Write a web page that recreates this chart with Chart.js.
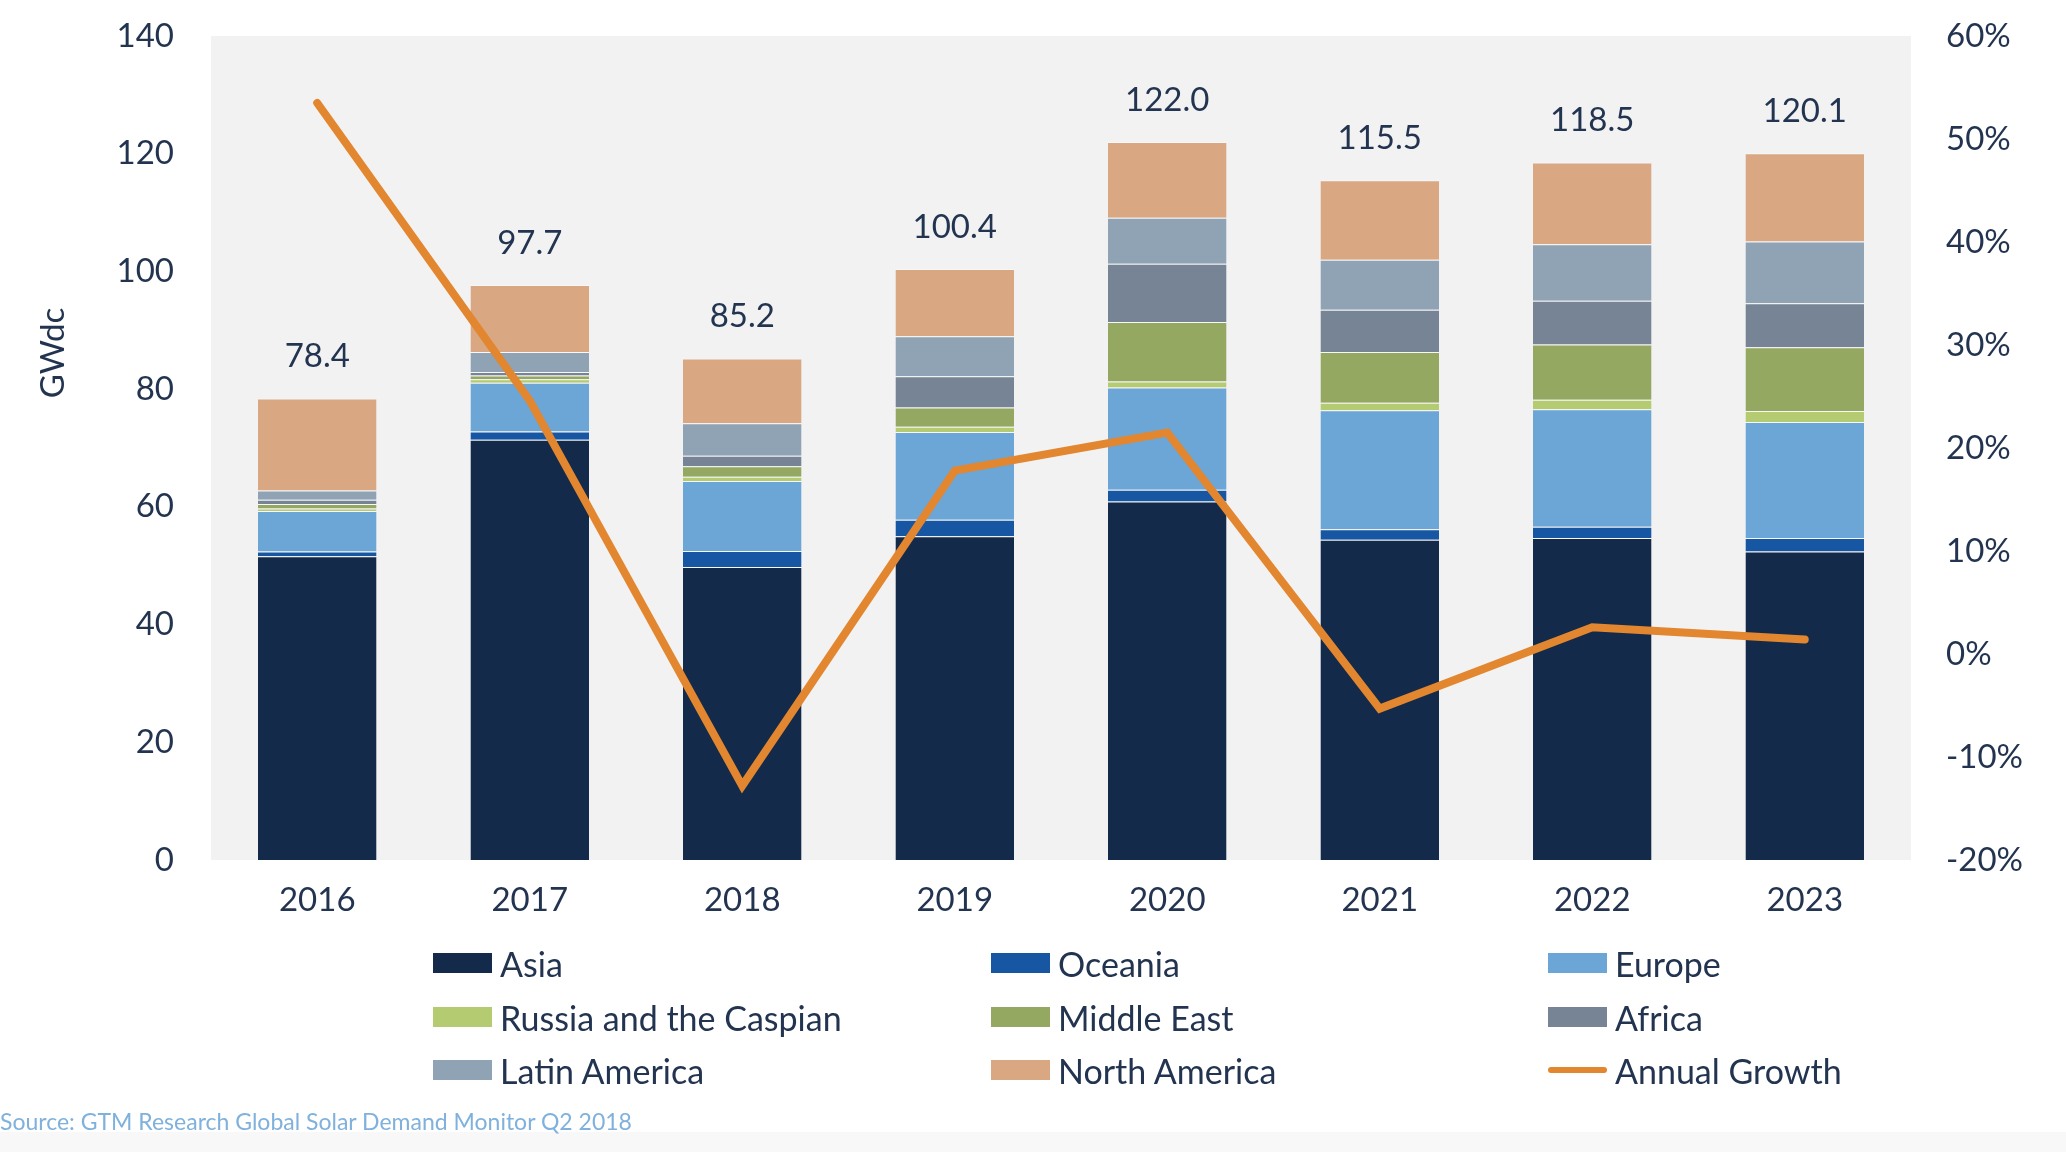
<!DOCTYPE html>
<html>
<head>
<meta charset="utf-8">
<script src="https://cdn.jsdelivr.net/npm/chart.js@4/dist/chart.umd.min.js"></script>
<style>
  html, body { margin: 0; padding: 0; background: #fff; }
  #wrap { position: relative; width: 2066px; height: 1152px; overflow: hidden; font-family: Lato, "Open Sans", sans-serif; }
  #bottomBand { position: absolute; left: 0; top: 1132px; width: 2066px; height: 20px; background: #f8f8f8; }
  .lg { position: absolute; height: 40px; display: flex; align-items: center; font-size: 34px; color: #233450; white-space: nowrap; }
  .lg .sw { width: 59px; height: 20px; margin-right: 8px; }
  .lg .ln { width: 59px; height: 6px; margin: 7px 8px 7px 0; border-radius: 3px; }
  #source { position: absolute; left: 0; top: 1107px; font-size: 23px; color: #7fb1dc; white-space: nowrap; }
</style>
</head>
<body>
<div id="wrap">
  <div id="bottomBand"></div>
  <canvas id="solarChart" width="2066" height="1152"></canvas>
  <div id="legend"></div>
  <div id="source">Source: GTM Research Global Solar Demand Monitor Q2 2018</div>
</div>
<script>
// categories
const years = ['2016', '2017', '2018', '2019', '2020', '2021', '2022', '2023'];

// regional demand, GWdc
const asia         = [51.6, 71.4, 49.8, 55.0, 60.9, 54.4, 54.7, 52.4];
const oceania      = [0.8, 1.4, 2.7, 2.8, 2.0, 1.8, 1.9, 2.3];
const europe       = [6.9, 8.3, 11.9, 14.9, 17.4, 20.2, 20.0, 19.7];
const russia       = [0.4, 0.6, 0.7, 0.9, 1.0, 1.3, 1.6, 1.9];
const middleEast   = [0.8, 0.6, 1.8, 3.3, 10.1, 8.6, 9.4, 10.8];
const africa       = [0.7, 0.6, 1.8, 5.3, 9.9, 7.2, 7.4, 7.5];
const latinAmerica = [1.6, 3.4, 5.5, 6.8, 7.8, 8.5, 9.6, 10.5];
const northAmerica = [15.6, 11.4, 11.0, 11.4, 12.9, 13.5, 13.9, 15.0];

// totals shown above bars
const totals = [78.4, 97.7, 85.2, 100.4, 122.0, 115.5, 118.5, 120.1];

// annual growth, %
const growth = [53.5, 24.6, -12.8, 17.8, 21.5, -5.3, 2.6, 1.4];

// axis ticks
const leftTicks = [0, 20, 40, 60, 80, 100, 120, 140];
const rightTicks = [-20, -10, 0, 10, 20, 30, 40, 50, 60];

const textColor = '#233450';
const fontFamily = 'Lato, "Open Sans", sans-serif';

function barSet(label, data, color) {
  return {
    type: 'bar',
    label: label,
    data: data,
    backgroundColor: color,
    borderColor: 'rgba(255,255,255,0.45)',
    borderWidth: { top: 1, left: 0, right: 0, bottom: 0 },
    borderSkipped: 'start',
    yAxisID: 'y',
    stack: 'regions',
    order: 1,
    barPercentage: 0.558,
    categoryPercentage: 1.0
  };
}

const datasets = [
  barSet('Asia', asia, '#132a4a'),
  barSet('Oceania', oceania, '#1656a3'),
  barSet('Europe', europe, '#6ca6d6'),
  barSet('Russia and the Caspian', russia, '#b4cb72'),
  barSet('Middle East', middleEast, '#95a862'),
  barSet('Africa', africa, '#768496'),
  barSet('Latin America', latinAmerica, '#8fa3b4'),
  barSet('North America', northAmerica, '#d9a883'),
  {
    type: 'line',
    label: 'Annual Growth',
    data: growth,
    borderColor: '#e2862f',
    backgroundColor: '#e2862f',
    borderWidth: 8,
    borderCapStyle: 'round',
    pointRadius: 0,
    tension: 0,
    yAxisID: 'y1',
    order: 0
  }
];

// gray plot background + totals + axis title
const decorations = {
  id: 'decorations',
  beforeDraw(chart) {
    const { ctx, chartArea: a } = chart;
    ctx.save();
    ctx.fillStyle = '#f2f2f2';
    ctx.fillRect(a.left, a.top, a.right - a.left, a.bottom - a.top);
    ctx.restore();
  },
  afterDatasetsDraw(chart) {
    const { ctx, scales } = chart;
    ctx.save();
    ctx.fillStyle = textColor;
    ctx.font = '33px ' + fontFamily;
    ctx.textAlign = 'center';
    ctx.textBaseline = 'middle';
    totals.forEach((t, i) => {
      const x = scales.x.getPixelForValue(i);
      const y = scales.y.getPixelForValue(t) - 42;
      ctx.fillText(t.toFixed(1), x, y);
    });
    // axis title
    ctx.translate(53, 353);
    ctx.rotate(-Math.PI / 2);
    ctx.fillText('GWdc', 0, 0);
    ctx.restore();
  }
};

const chart = new Chart(document.getElementById('solarChart'), {
  data: { labels: years, datasets: datasets },
  options: {
    responsive: false,
    animation: false,
    devicePixelRatio: 1,
    layout: { padding: { top: 36, left: 0, right: 0, bottom: 0 } },
    plugins: {
      legend: { display: false },
      tooltip: { enabled: false }
    },
    scales: {
      x: {
        stacked: true,
        grid: { display: false, drawTicks: false },
        border: { display: false },
        ticks: { color: textColor, font: { family: fontFamily, size: 33 }, padding: 21 },
        afterFit(s) { s.height = 292; s.paddingLeft = 0; s.paddingRight = 0; }
      },
      y: {
        stacked: true,
        position: 'left',
        min: 0,
        max: 140,
        afterBuildTicks(s) { s.ticks = leftTicks.map(v => ({ value: v })); },
        grid: { display: false, drawTicks: false },
        border: { display: false },
        ticks: { color: textColor, font: { family: fontFamily, size: 33 }, padding: 37 },
        afterFit(s) { s.width = 211; s.paddingTop = 0; s.paddingBottom = 0; }
      },
      y1: {
        position: 'right',
        min: -20,
        max: 60,
        afterBuildTicks(s) { s.ticks = rightTicks.map(v => ({ value: v })); },
        grid: { display: false, drawTicks: false },
        border: { display: false },
        ticks: {
          color: textColor,
          font: { family: fontFamily, size: 33 },
          padding: 35,
          callback: v => v + '%'
        },
        afterFit(s) { s.width = 155; s.paddingTop = 0; s.paddingBottom = 0; }
      }
    }
  },
  plugins: [decorations]
});

// legend in three columns, built from the chart datasets
const legendCols = [433, 991, 1548];
const legendRows = [943, 997, 1050];
const legendEl = document.getElementById('legend');
chart.data.datasets.forEach((ds, i) => {
  const item = document.createElement('div');
  item.className = 'lg';
  item.style.left = legendCols[i % 3] + 'px';
  item.style.top = legendRows[Math.floor(i / 3)] + 'px';
  const mark = document.createElement('span');
  mark.className = ds.type === 'line' ? 'ln' : 'sw';
  mark.style.background = ds.type === 'line' ? ds.borderColor : ds.backgroundColor;
  const txt = document.createElement('span');
  txt.textContent = ds.label;
  item.appendChild(mark);
  item.appendChild(txt);
  legendEl.appendChild(item);
});
</script>
</body>
</html>
